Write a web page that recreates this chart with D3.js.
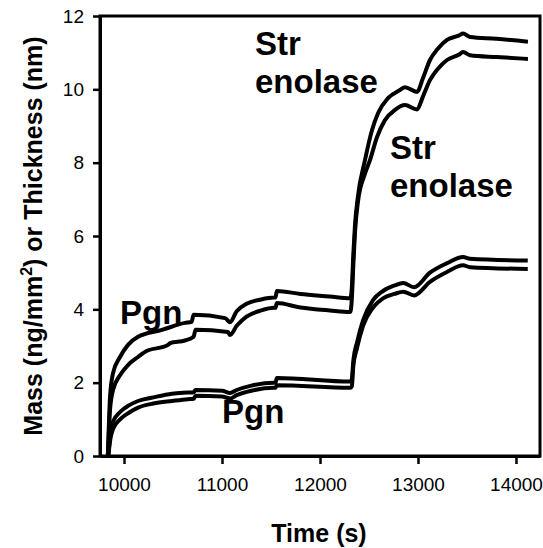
<!DOCTYPE html>
<html>
<head>
<meta charset="utf-8">
<script src="https://cdn.jsdelivr.net/npm/d3@7"></script>
<style>
  body { margin: 0; background: #fff; }
  svg { display: block; font-family: "Liberation Sans", Arial, sans-serif; }
</style>
</head>
<body>
<svg width="543" height="548"></svg>
<script>
// Time (s) and value pairs
const strUpperT = [9835, 9845, 9857, 9888, 9959, 10041, 10143, 10388, 10622, 10690, 10710, 11031, 11082, 11150, 11250, 11400, 11530, 11545, 11560, 11800, 12100, 12310, 12325, 12340, 12357, 12388, 12459, 12531, 12592, 12694, 12816, 12867, 12990, 13050, 13122, 13200, 13296, 13420, 13459, 13531, 13800, 14122];
const strUpperV = [0, 0.8, 1.6, 2.26, 2.7, 3.03, 3.25, 3.44, 3.63, 3.66, 3.85, 3.76, 3.65, 3.95, 4.15, 4.27, 4.32, 4.32, 4.5, 4.42, 4.35, 4.3, 4.6, 5.5, 6.3, 7.1, 8.07, 8.89, 9.35, 9.76, 9.98, 10.06, 9.93, 10.3, 10.8, 11.1, 11.35, 11.47, 11.52, 11.43, 11.38, 11.3];

const strLowerT = [9835, 9845, 9857, 9888, 9959, 10041, 10143, 10214, 10449, 10470, 10622, 10710, 10730, 11061, 11082, 11150, 11250, 11400, 11530, 11545, 11560, 11800, 12100, 12310, 12325, 12340, 12357, 12388, 12459, 12510, 12582, 12663, 12765, 12867, 12990, 13050, 13122, 13200, 13296, 13420, 13459, 13531, 13800, 14122];
const strLowerV = [0, 0.6, 1.25, 1.8, 2.2, 2.48, 2.7, 2.84, 3.03, 3.08, 3.15, 3.25, 3.44, 3.38, 3.3, 3.55, 3.8, 3.97, 4.04, 4.04, 4.17, 4.05, 3.97, 3.93, 4.3, 5.2, 6.1, 6.95, 7.7, 8.07, 8.7, 9.16, 9.44, 9.57, 9.45, 9.8, 10.25, 10.55, 10.8, 10.95, 11.02, 10.93, 10.88, 10.83];

const pgnUpperT = [9840, 9860, 9890, 9960, 10050, 10143, 10300, 10490, 10650, 10710, 10730, 11000, 11082, 11150, 11300, 11530, 11545, 11560, 12310, 12325, 12340, 12378, 12439, 12541, 12643, 12760, 12850, 12960, 13122, 13296, 13460, 13530, 14120];
const pgnUpperV = [0, 0.6, 0.95, 1.2, 1.38, 1.5, 1.6, 1.7, 1.73, 1.74, 1.8, 1.78, 1.72, 1.8, 1.92, 2.0, 2.0, 2.13, 2.03, 2.1, 2.6, 3.1, 3.7, 4.25, 4.5, 4.65, 4.72, 4.6, 5.0, 5.26, 5.43, 5.38, 5.33];

const pgnLowerT = [9840, 9860, 9890, 9960, 10050, 10143, 10300, 10490, 10650, 10710, 10730, 11000, 11082, 11150, 11300, 11530, 11545, 11560, 12310, 12325, 12340, 12378, 12439, 12541, 12643, 12760, 12850, 12960, 13122, 13296, 13460, 13530, 14120];
const pgnLowerV = [0, 0.45, 0.75, 1.0, 1.18, 1.32, 1.43, 1.5, 1.55, 1.56, 1.64, 1.62, 1.57, 1.66, 1.78, 1.86, 1.86, 1.93, 1.86, 1.9, 2.45, 2.95, 3.55, 4.05, 4.3, 4.42, 4.48, 4.38, 4.75, 5.02, 5.2, 5.15, 5.1];

const xTicks = [10000, 11000, 12000, 13000, 14000];
const yTicks = [0, 2, 4, 6, 8, 10, 12];

const labels = [
  { t: 11337, v: 10.94, lines: ["Str", "enolase"] },
  { t: 12714, v: 8.1, lines: ["Str", "enolase"] },
  { t: 9959, v: 3.6, lines: ["Pgn"] },
  { t: 11000, v: 0.9, lines: ["Pgn"] }
];

// Plot area
const plotLeft = 100, plotRight = 540, plotTop = 16, plotBottom = 456;

const svg = d3.select("svg");

const x = d3.scaleLinear().domain([9755, 14245]).range([plotLeft, plotRight]);
const y = d3.scaleLinear().domain([0, 12]).range([plotBottom, plotTop]);

// Frame (top and right sides)
svg.append("rect")
  .attr("x", plotLeft)
  .attr("y", plotTop)
  .attr("width", plotRight - plotLeft)
  .attr("height", plotBottom - plotTop)
  .attr("fill", "none")
  .attr("stroke", "#000")
  .attr("stroke-width", 3);

// Y axis
const yAxis = svg.append("g")
  .attr("transform", `translate(${plotLeft},0)`)
  .call(d3.axisLeft(y).tickValues(yTicks).tickSize(7).tickSizeOuter(0).tickPadding(9));

// X axis
const xAxis = svg.append("g")
  .attr("transform", `translate(0,${plotBottom})`)
  .call(d3.axisBottom(x).tickValues(xTicks).tickFormat(d3.format("d")).tickSize(8).tickSizeOuter(0).tickPadding(14));

[yAxis, xAxis].forEach((g) => {
  g.select(".domain").attr("stroke-width", 3);
  g.selectAll(".tick line").attr("stroke-width", 2.5);
  g.selectAll(".tick text")
    .attr("font-family", "Liberation Sans, Arial, sans-serif")
    .attr("font-size", 19)
    .attr("fill", "#000");
});

// Curves
const line = d3.line()
  .x((d) => x(d[0]))
  .y((d) => y(d[1]))
  .curve(d3.curveMonotoneX);

const series = [
  [strUpperT, strUpperV],
  [strLowerT, strLowerV],
  [pgnUpperT, pgnUpperV],
  [pgnLowerT, pgnLowerV]
];

series.forEach(([ts, vs]) => {
  svg.append("path")
    .datum(ts.map((t, i) => [t, vs[i]]))
    .attr("fill", "none")
    .attr("stroke", "#000")
    .attr("stroke-width", 4)
    .attr("stroke-linejoin", "round")
    .attr("d", line);
});

// Annotations
labels.forEach((d) => {
  const txt = svg.append("text")
    .attr("x", x(d.t))
    .attr("y", y(d.v))
    .attr("font-size", 33)
    .attr("font-weight", "bold")
    .attr("fill", "#000");
  d.lines.forEach((s, i) => {
    txt.append("tspan")
      .attr("x", x(d.t))
      .attr("dy", i === 0 ? 0 : 38)
      .text(s);
  });
});

// Axis titles
svg.append("text")
  .attr("x", (plotLeft + plotRight) / 2 - 1)
  .attr("y", 542)
  .attr("text-anchor", "middle")
  .attr("font-size", 25)
  .attr("font-weight", "bold")
  .text("Time (s)");

const yTitle = svg.append("text")
  .attr("transform", `translate(42,${(plotTop + plotBottom) / 2}) rotate(-90)`)
  .attr("text-anchor", "middle")
  .attr("font-size", 25)
  .attr("font-weight", "bold");
yTitle.append("tspan").text("Mass (ng/mm");
yTitle.append("tspan").attr("font-size", 16).attr("dy", -10).text("2");
yTitle.append("tspan").attr("dy", 10).text(") or Thickness (nm)");
</script>
</body>
</html>
